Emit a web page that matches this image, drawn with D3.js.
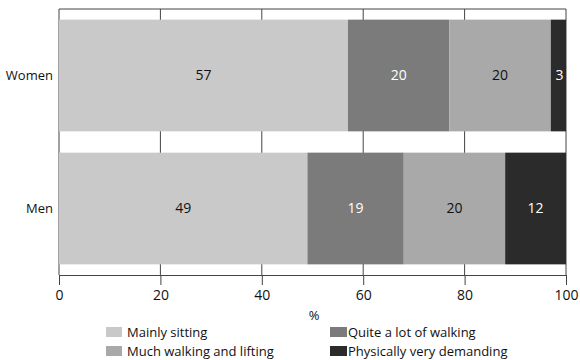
<!DOCTYPE html>
<html><head><meta charset="utf-8">
<script src="https://cdn.jsdelivr.net/npm/d3@7"></script>
<style>body{margin:0;background:#fff}svg{display:block}text{font-family:"Open Sans","Liberation Sans",sans-serif}</style>
</head><body><svg id="c" width="580" height="360"></svg>
<script>
const groups = ["Women", "Men"];
const series = ["Mainly sitting", "Quite a lot of walking", "Much walking and lifting", "Physically very demanding"];
const women = [57, 20, 20, 3];
const men = [49, 19, 20, 12];
const ticks = [0, 20, 40, 60, 80, 100];
const colors = ["#c9c9c9", "#7b7b7b", "#a9a9a9", "#2b2b2b"];
const labelColors = ["#111", "#fff", "#111", "#fff"];

const svg = d3.select("#c");
const m = {l: 59, r: 14, t: 9, b: 85};
const W = 580, H = 360;
const x = d3.scaleLinear().domain([0, 100]).range([m.l, W - m.r]);
const y = d3.scaleBand().domain(groups).range([m.t, H - m.b]).paddingInner(0.16).paddingOuter(0.08);

// gridlines
svg.append("g").selectAll("line").data(ticks.slice(1)).join("line")
  .attr("x1", d => x(d)).attr("x2", d => x(d)).attr("y1", m.t).attr("y2", H - m.b)
  .attr("stroke", "#444").attr("stroke-width", 1);
// frame top, left
svg.append("line").attr("x1", x(0)).attr("x2", x(100)).attr("y1", m.t).attr("y2", m.t).attr("stroke", "#444");
svg.append("line").attr("x1", x(0)).attr("x2", x(0)).attr("y1", m.t).attr("y2", H - m.b).attr("stroke", "#444");

const data = {Women: women, Men: men};
groups.forEach(g => {
  const vals = data[g];
  let acc = 0;
  const segs = vals.map((v, i) => { const s = {g, i, v, x0: acc, x1: acc + v}; acc += v; return s; });
  const gg = svg.append("g");
  gg.selectAll("rect").data(segs).join("rect")
    .attr("x", d => x(d.x0)).attr("width", d => x(d.x1) - x(d.x0))
    .attr("y", y(g)).attr("height", y.bandwidth())
    .attr("fill", d => colors[d.i]);
  gg.selectAll("text").data(segs).join("text")
    .attr("x", d => (x(d.x0) + x(d.x1)) / 2 + (d.v < 5 ? 1 : 0))
    .attr("y", y(g) + y.bandwidth() / 2)
    .attr("dy", "0.35em").attr("text-anchor", "middle")
    .attr("font-size", 14).attr("font-weight", 500).attr("fill", d => labelColors[d.i])
    .text(d => d.v);
});

// y labels
svg.append("g").selectAll("text").data(groups).join("text")
  .attr("x", m.l - 6).attr("y", d => y(d) + y.bandwidth() / 2).attr("dy", "0.35em")
  .attr("text-anchor", "end").attr("font-size", 13).attr("fill", "#111").text(d => d);

// x axis
const ax = svg.append("g").attr("transform", `translate(0,${H - m.b})`)
  .call(d3.axisBottom(x).tickValues(ticks).tickSize(10).tickPadding(5));
ax.select(".domain").attr("stroke", "#444");
ax.selectAll(".tick line").attr("stroke", "#444");
ax.selectAll("text").attr("font-size", 14).attr("fill", "#111").style("font-family", "'Open Sans','Liberation Sans',sans-serif");

svg.append("text").attr("x", 314).attr("y", 320).attr("text-anchor", "middle")
  .attr("font-size", 13).attr("fill", "#111").text("%");

// legend
const legPos = [[106, 332], [330, 332], [106, 351], [330, 351]];
const leg = svg.append("g").selectAll("g").data(series).join("g")
  .attr("transform", (d, i) => `translate(${legPos[i][0]},${legPos[i][1]})`);
leg.append("rect").attr("x", 0).attr("y", -5).attr("width", d => series.indexOf(d) % 2 ? 17 : 16).attr("height", 10)
  .attr("fill", (d, i) => colors[i]);
leg.append("text").attr("x", (d, i) => i % 2 ? 18 : 21).attr("y", 0).attr("dy", "0.35em")
  .attr("font-size", 13).attr("fill", "#111").text(d => d);
</script></body></html>
